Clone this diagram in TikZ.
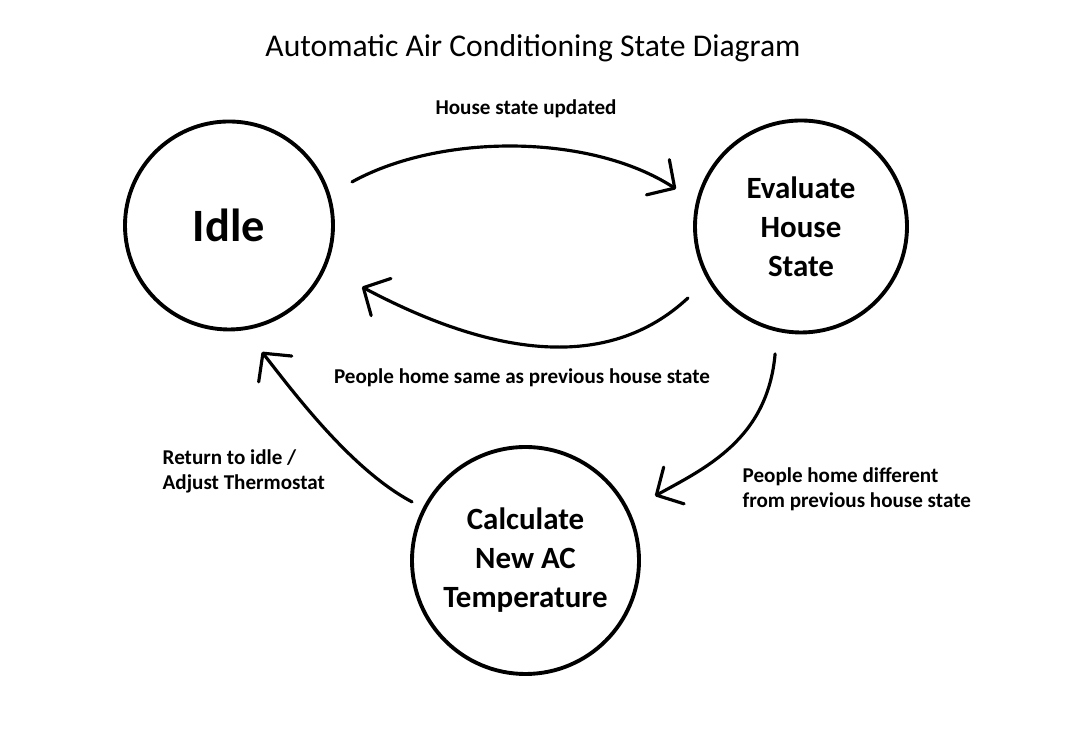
\documentclass[tikz,border=0pt]{standalone}
\usepackage{fontspec}
\setmainfont{Carlito}
\usetikzlibrary{arrows.meta}

\begin{document}
\begin{tikzpicture}[
  state/.style={circle,draw,line width=1.1pt,inner sep=0pt,align=center,
    font=\bfseries\fontsize{8.8}{11.1}\selectfont},
  trans/.style={line width=0.9pt,line cap=round,-{Straight Barb[length=2mm,width=4.2mm,round]}},
  lbl/.style={font=\bfseries\fontsize{6}{7.1}\selectfont,align=left,inner sep=0pt}]

\useasboundingbox (0,0) rectangle (10.86,7.37);

\node (title) at (5.33,6.89) {\fontsize{9}{11}\selectfont Automatic Air Conditioning State Diagram};

% states
\node[state,minimum size=2.08cm,font=\bfseries\fontsize{13.2}{16}\selectfont] (idle) at (2.29,5.115) {Idle};
\node[state,minimum size=2.12cm] (evaluate) at (8.01,5.105) {Evaluate\\House\\State};
\node[state,minimum size=2.27cm] (calculate) at (5.255,1.765) {Calculate\\New AC\\Temperature};

% transitions
\draw[trans] ([shift={(19.5:1.305)}]idle.center)
        .. controls +(29:1.0) and +(147:1.03) .. ([shift={(163.3:1.305)}]evaluate.center);
\draw[trans] ([shift={(212.3:1.337)}]evaluate.center)
        .. controls +(223:1.10) and +(-28:1.47) .. ([shift={(-24.8:1.465)}]idle.center);
\draw[trans] ([shift={(258.5:1.30)}]evaluate.center)
        .. controls +(265:0.86) and +(29:0.57) .. ([shift={(26.5:1.447)}]calculate.center);
\draw[trans] ([shift={(152.7:1.277)}]calculate.center)
        .. controls +(152:0.68) and +(-52:0.55) .. ([shift={(-75.4:1.307)}]idle.center);

% labels
\node[lbl] (updated) at (5.26,6.28) {House state updated};
\node[lbl] (same) at (5.22,3.59) {People home same as previous house state};
\node[lbl,anchor=west] (back) at (1.62,2.655) {Return to idle /\\Adjust Thermostat};
\node[lbl,anchor=west] (different) at (7.42,2.475) {People home different\\from previous house state};

\end{tikzpicture}
\end{document}
